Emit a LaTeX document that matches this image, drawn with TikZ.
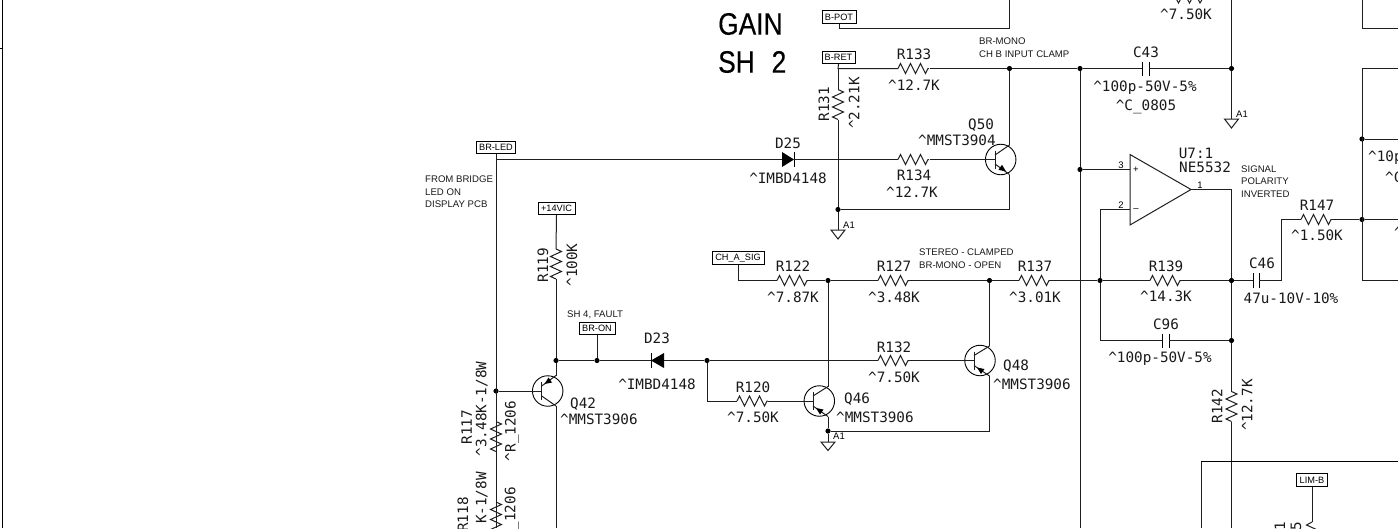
\documentclass[tikz,border=0pt]{standalone}
\usepackage{fontspec}
\setmainfont{Liberation Sans}
\newfontfamily\labfont{DejaVu Sans Mono}
\newfontfamily\titlefont[FakeBold=0.35,FakeStretch=0.85,WordSpace=2.3]{Liberation Sans}
\usetikzlibrary{arrows.meta,calc}
\tikzset{
  x=1pt,y=-1pt,
  wire/.style={line width=1pt,black!88},
  frameline/.style={line width=1.5pt,black},
  boxline/.style={line width=1pt,black},
  junct/.style={circle,fill=black,inner sep=0pt,minimum size=5.2pt},
  lab/.style={inner sep=0pt,font=\labfont\fontsize{14.3}{14}\selectfont,black!90},
  note/.style={inner sep=0pt,anchor=west,font=\fontsize{9.6}{10}\selectfont,black!90},
  pinno/.style={inner sep=0pt,font=\fontsize{9.5}{10}\selectfont},
  tag/.style={draw=black,line width=.8pt,fill=white,inner sep=0pt,minimum height=12.5pt,font=\fontsize{9.2}{9}\selectfont},
  big/.style={inner sep=0pt,anchor=west,font=\titlefont\fontsize{31}{32}\selectfont},
  trans/.style={circle,draw=black,line width=.9pt,inner sep=0pt,minimum size=30.5pt},
  capplate/.style={line width=1pt,black},
}
\newcommand{\resH}[2]{%
  \draw[wire] (#1,#2) -- ++(2.5,-5) -- ++(5,10) -- ++(5,-10) -- ++(5,10) -- ++(5,-10) -- ++(5,10) -- ++(2.5,-5) -- ++(1,0);}
\newcommand{\resV}[2]{%
  \draw[wire] (#1,#2) -- ++(-5.5,-2.5) -- ++(11,-5) -- ++(-11,-5) -- ++(11,-5) -- ++(-11,-5) -- ++(11,-5) -- ++(-5.5,-2.5);}
\newcommand{\capH}[2]{%
  \draw[capplate] (#1-3.2,#2-7) -- (#1-3.2,#2+7);
  \draw[capplate] (#1+3.2,#2-7) -- (#1+3.2,#2+7);}
\begin{document}
\begin{tikzpicture}
\useasboundingbox (0,0) rectangle (1398,528);
\clip (0,0) rectangle (1398,528);
\fill[white] (0,0) rectangle (1398,528);

% left frame fragment
\coordinate (ftop) at (2.5,0); \coordinate (fbot) at (2.5,528);
\draw[frameline] (ftop) -- (fbot);
\draw[boxline] (0,48) -- (2.5,48);

% title
\node[big] (gain) at (718,24) {GAIN};
\node[big] (sh) at (718,62) {SH 2};

% tags
\node[tag,minimum width=34pt] (bpot) at (839,17) {B-POT};
\node[tag,minimum width=33pt] (bret) at (838.5,57.5) {B-RET};
\node[tag,minimum width=39pt] (brled) at (496,147.5) {BR-LED};
\node[tag,minimum width=37pt] (vic) at (556.5,208.5) {+14VIC};
\node[tag,minimum width=36pt] (bron) at (597,328.5) {BR-ON};
\node[tag,minimum width=52pt] (chasig) at (738,258) {CH\_A\_SIG};
\node[tag,minimum width=31pt] (limb) at (1312,480) {LIM-B};

% junctions
\foreach \n/\p in {jA/{1009.5,68.5},jB/{1080,68.5},jC/{1231.5,68.5},jD/{838,209.5},jE/{1080,169.5},
  jF/{496,391},jG/{556,360.5},jH/{597,360.5},jI/{707,360.5},jJ/{828,280.5},jK/{989.5,280.5},
  jL/{828,431},jM/{1100,280.5},jN/{1231.5,280.5},jO/{1231.5,340.5},jP/{1362,139},jQ/{1362,219.5}}
  {\node[junct] (\n) at (\p) {};}

% free ends
\coordinate (tr1) at (1009.5,0);
\coordinate (bl496) at (496,528);
\coordinate (bl556) at (556,528);
\coordinate (bl1080) at (1080,528);
\coordinate (bl1231) at (1231.5,528);

% B-POT
\draw[wire] (bpot.south) |- (1009.5,28.5) -- (tr1);
% top partial resistor
\draw[wire] (1173,-7) -- (1178.5,3) -- (1184,-7) -- (1189.5,3) -- (1195,-7) -- (1200,3) -- (1203,-2);
% B-RET / R133 / C43
\draw[wire] (bret.south) -- (838,68.5) -- (898,68.5);
\resH{898}{68.5}
\draw[wire] (930,68.5) -- (jA) -- (jB) -- (1142.8,68.5);
\capH{1146}{68.5}
\draw[wire] (1149.2,68.5) -- (jC);
\draw[wire] (tr1 -| jC) -- (jC);
\draw[wire] (jC) -- (1231.5,119);
\draw[wire,line join=miter] (1224.5,119) -- (1238.5,119) -- (1231.5,128) -- cycle;
\node[pinno,anchor=west] at (1236,114) {A1};
% R131
\draw[wire] (838,68.5) -- (838,89.5);
\resV{838}{119.5}
\draw[wire] (838,119.5) -- (jD);
\draw[wire] (jD) -- (838,230);
\draw[wire,line join=miter] (831,230) -- (845,230) -- (838,239) -- cycle;
\node[pinno,anchor=west] at (843,225) {A1};

% BR-LED net and D25
\draw[wire] (brled.south) -- (bl496);
\draw[wire] (496,159.5) -- (782,159.5);
\fill[black] (782,152) -- (794,159.5) -- (782,167) -- cycle;
\draw[capplate] (794,152) -- (794,167);
\draw[wire] (794,159.5) -- (898,159.5);
\resH{898}{159.5}
% Q50 NPN
\node[trans] (q50) at (1000.7,159.5) {};
\draw[wire] (930,159.5) -- (995,159.5);
\draw[wire] (995,150.5) -- (995,168.5);
\draw[wire] (995,155) -- (1009.5,145);
\draw[wire] (995,164) -- (1009.5,174.5);
\fill[black] (1006,171.5) -- (998.5,169.8) -- (1002,164.8) -- cycle;
\draw[wire] (jA) -- (1009.5,145);
\draw[wire] (1009.5,174.5) -- (1009.5,209.5) -- (jD);

% +14VIC / R119
\draw[wire] (vic.south) -- (556,249);
\resV{556}{279}
\draw[wire] (556,279) -- (jG);
\draw[wire] (bron.south) -- (jH);
\draw[wire] (jG) -- (jH) -- (651,360.5);
\fill[black] (651,360.5) -- (664,353) -- (664,368) -- cycle;
\draw[capplate] (651,353) -- (651,368);
\draw[wire] (664,360.5) -- (jI);
% Q42 PNP
\node[trans] (q42) at (547.7,391) {};
\draw[wire] (jF) -- (541.7,391);
\draw[wire] (541.7,382) -- (541.7,400);
\draw[wire] (541.7,386) -- (556,375.5);
\draw[wire] (541.7,396) -- (556,406);
\fill[black] (544.5,384) -- (552,382.5) -- (548.5,377.5) -- cycle;
\draw[wire] (jG) -- (556,375.5);
\draw[wire] (556,406) -- (bl556);
% R117 R118
\draw[wire] (496,421.5) -- (jF);
\resV{496}{451.5}
\draw[wire] (496,451.5) -- (496,502);
\resV{496}{532}

% CH_A_SIG line
\draw[wire] (chasig.south) |- (777,280.5);
\resH{777}{280.5}
\draw[wire] (808,280.5) -- (jJ) -- (878,280.5);
\resH{878}{280.5}
\draw[wire] (909,280.5) -- (jK) -- (1019,280.5);
\resH{1019}{280.5}
\draw[wire] (1050,280.5) -- (jM) -- (1150,280.5);
\resH{1150}{280.5}
\draw[wire] (1181,280.5) -- (jN) -- (1254,280.5);
\draw[capplate] (1253.5,273) -- (1253.5,288);
\draw[capplate] (1259,273) -- (1259,288);
\draw[wire] (1259,280.5) -- (1281.5,280.5) -- (1281.5,219.5) -- (1301,219.5);
\resH{1301}{219.5}
\draw[wire] (1332,219.5) -- (jQ) -- (1398,219.5);

% Q46 PNP
\draw[wire] (jJ) -- (828,386.5);
\node[trans] (q46) at (819.3,401) {};
\draw[wire] (813,392) -- (813,410);
\draw[wire] (813,396) -- (828,386.5);
\draw[wire] (813,406) -- (828,416.5);
\fill[black] (816,408) -- (823.5,409.5) -- (820,414.5) -- cycle;
\draw[wire] (828,416.5) -- (jL);
\draw[wire] (jL) -- (828,442);
\draw[wire,line join=miter] (821,442) -- (835,442) -- (828,450.5) -- cycle;
\node[pinno,anchor=west] at (833,436.5) {A1};
% Q48
\node[trans] (q48) at (980,360.5) {};
\draw[wire] (974,351.5) -- (974,369.5);
\draw[wire] (974,355.5) -- (989.5,346);
\draw[wire] (974,365.5) -- (989.5,376);
\fill[black] (977,367.5) -- (984.5,369) -- (981,374) -- cycle;
\draw[wire] (jK) -- (989.5,346);
\draw[wire] (989.5,376) -- (989.5,431) -- (jL);
% R132 R120
\draw[wire] (jI) -- (878,360.5);
\resH{878}{360.5}
\draw[wire] (909,360.5) -- (974,360.5);
\draw[wire] (jI) |- (737,401);
\resH{737}{401}
\draw[wire] (768,401) -- (813,401);

% op amp
\coordinate (oa1) at (1130,154.5); \coordinate (oa2) at (1130,225); \coordinate (oat) at (1191,189.5);
\draw[wire,line join=miter] (oa1) -- (oa2) -- (oat) -- cycle;
\node[pinno] (plus) at (1136,170) {+};
\node[pinno] (minus) at (1136,210) {--};
\draw[wire] (jB) -- (jE) -- (bl1080);
\draw[wire] (jE) -- (1130,169.5);
\draw[wire] (1130,209.5) -- (1100,209.5) -- (jM);
\draw[wire] (jM) -- (1100,340.5) -- (1162.8,340.5);
\capH{1166}{340.5}
\draw[wire] (1169.2,340.5) -- (jO);
\draw[wire] (oat) -- (1231.5,189.5) -- (jN) -- (jO) -- (1231.5,391.5);
\resV{1231.5}{421.5}
\draw[wire] (1231.5,421.5) -- (bl1231);

% right boxes
\draw[wire] (1398,28.5) -- (1362,28.5) -- (1362,0);
\draw[wire] (1398,68.5) -- (1362,68.5) -- (1362,280.5) -- (1398,280.5);
\draw[wire] (jP) -- (1398,139);
% bottom box
\draw[boxline] (1398,461.5) -- (1201,461.5);
\draw[wire] (1201,461.5) -- (1201,528);
\draw[wire] (limb.south) -- (1312,522);
\draw[wire] (1312,522) -- (1306.5,525) -- (1317.5,530);

% labels
\node[lab] at (914,54) {R133};
\node[lab] at (914,85) {\^{}12.7K};
\node[lab,rotate=90] at (824,104) {R131};
\node[lab,rotate=90] at (854,103) {\^{}2.21K};
\node[lab] at (788,143) {D25};
\node[lab] at (788,178) {\^{}IMBD4148};
\node[lab] at (914,175) {R134};
\node[lab] at (912,192) {\^{}12.7K};
\node[lab,anchor=west] at (968,125) {Q50};
\node[lab,anchor=west] at (918,140) {\^{}MMST3904};
\node[note] at (979,41) {BR-MONO};
\node[note] at (979,54) {CH B INPUT CLAMP};
\node[lab] at (1146,52) {C43};
\node[lab] at (1145,88) {\^{}100p-50V-5\%};
\node[lab] at (1146,107) {\^{}C\_0805};
\node[lab] at (1186,14) {\^{}7.50K};
\node[lab] at (1196,153) {U7:1};
\node[lab,anchor=west] at (1179,167) {NE5532};
\node[pinno] at (1121,165) {3};
\node[pinno] at (1121,205) {2};
\node[pinno] at (1200,185) {1};
\node[note] at (1241,169) {SIGNAL};
\node[note] at (1241,181) {POLARITY};
\node[note] at (1241,194) {INVERTED};
\node[note] at (425,179) {FROM BRIDGE};
\node[note] at (425,192) {LED ON};
\node[note] at (425,204) {DISPLAY PCB};
\node[lab,rotate=90] at (543,265) {R119};
\node[lab,rotate=90] at (572,265) {\^{}100K};
\node[note] at (567,315) {SH 4, FAULT};
\node[lab] at (657,338) {D23};
\node[lab] at (657,384) {\^{}IMBD4148};
\node[lab,anchor=west] at (570,404) {Q42};
\node[lab,anchor=west] at (560,419) {\^{}MMST3906};
\node[lab,rotate=90] at (466.7,427) {R117};
\node[lab,rotate=90] at (481.7,409) {\^{}3.48K-1/8W};
\node[lab,rotate=90] at (512,431) {\^{}R\_1206};
\node[lab,rotate=90,anchor=east] at (463,497) {R118};
\node[lab,rotate=90,anchor=east] at (481.7,472) {K-1/8W};
\node[lab,rotate=90,anchor=east] at (511.7,487) {\_1206};
\node[lab] at (793,266) {R122};
\node[lab] at (793,297) {\^{}7.87K};
\node[lab] at (894,266) {R127};
\node[lab] at (894,297) {\^{}3.48K};
\node[note] at (919,252) {STEREO - CLAMPED};
\node[note] at (919,265) {BR-MONO - OPEN};
\node[lab] at (1035,266) {R137};
\node[lab] at (1035,297) {\^{}3.01K};
\node[lab] at (894,347) {R132};
\node[lab] at (894,377) {\^{}7.50K};
\node[lab] at (753,387) {R120};
\node[lab] at (753,417) {\^{}7.50K};
\node[lab,anchor=west] at (844,399) {Q46};
\node[lab,anchor=west] at (836,417) {\^{}MMST3906};
\node[lab,anchor=west] at (1003,366) {Q48};
\node[lab,anchor=west] at (993,384) {\^{}MMST3906};
\node[lab] at (1166,266) {R139};
\node[lab] at (1166,296) {\^{}14.3K};
\node[lab] at (1166,324) {C96};
\node[lab] at (1160,359) {\^{}100p-50V-5\%};
\node[lab] at (1262,263) {C46};
\node[lab] at (1291,298) {47u-10V-10\%};
\node[lab] at (1317,205) {R147};
\node[lab] at (1317,235) {\^{}1.50K};
\node[lab,rotate=90] at (1217,406) {R142};
\node[lab,rotate=90] at (1247,405) {\^{}12.7K};
\node[lab,anchor=west] at (1368,158) {\^{}10p};
\node[lab,anchor=west] at (1385,177) {\^{}C};
\node[lab,anchor=west] at (1394,232) {\^{}};
\node[lab,rotate=90,anchor=east] at (1280,522) {1};
\node[lab,rotate=90,anchor=east] at (1296,522) {5};
\end{tikzpicture}
\end{document}
